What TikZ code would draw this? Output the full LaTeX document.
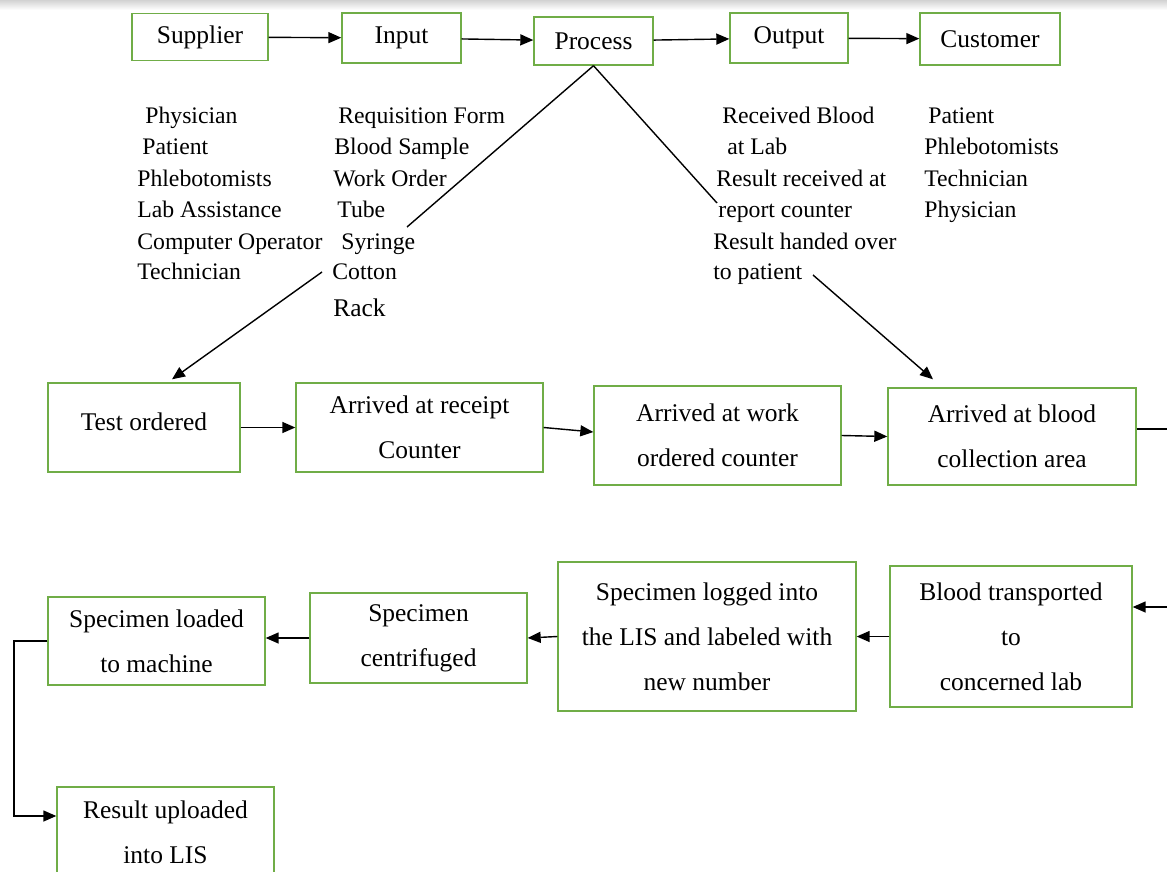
\documentclass[tikz,border=0pt]{standalone}
\usepackage{fontspec}
\setmainfont{Liberation Serif}
\usetikzlibrary{arrows.meta}
\definecolor{boxgreen}{RGB}{112,173,71}
\newcommand\boxfnt{\fontsize{14.5}{25.6}\selectfont}
\newcommand\listfnt{\fontsize{13.5}{17.8}\selectfont}
\tikzset{
  stage/.style={draw=boxgreen,line width=0.8pt,align=center,font=\boxfnt,inner sep=0pt},
  listtext/.style={font=\listfnt,inner sep=0pt,anchor=base west},
  arr/.style={line width=0.8pt,-{Triangle[length=2.6mm,width=2.2mm]}},
  ln/.style={line width=0.8pt}
}
\begin{document}
\begin{tikzpicture}[x=0.02cm,y=-0.02cm]
    \useasboundingbox (0,0) rectangle (1167,872);
    \shade[top color=gray!35,bottom color=white] (0,0) rectangle (1167,10);
    % SIPOC row
    \node[stage,minimum width=2.72cm,minimum height=0.94cm] (sup) at (200,37) {Supplier};
    \node[stage,minimum width=2.38cm,minimum height=1.0cm] (inp) at (401.5,38) {Input};
    \node[stage,minimum width=2.38cm,minimum height=0.96cm] (proc) at (593.5,41) {Process};
    \node[stage,minimum width=2.36cm,minimum height=1.0cm] (outp) at (789,38) {Output};
    \node[stage,minimum width=2.8cm,minimum height=1.04cm] (cust) at (990,39) {Customer};
    \draw[arr] (sup) -- (inp);
    \draw[arr] (inp) -- (proc);
    \draw[arr] (proc) -- (outp);
    \draw[arr] (outp) -- (cust);
    \foreach \i/\x/\y/\t in {1/145/123/Physician,2/142/154/Patient,3/137/186/Phlebotomists,
        4/137/217/Lab Assistance,5/137/249/Computer Operator,6/137/279/Technician}
        \node[listtext] (sup\i) at (\x,\y) {\t};
    \foreach \i/\x/\y/\t in {1/338/123/Requisition Form,2/334/154/Blood Sample,3/333/186/Work Order,
        4/337/217/Tube,5/341/249/Syringe,6/332/279/Cotton}
        \node[listtext] (inp\i) at (\x,\y) {\t};
    \node[listtext,font=\boxfnt] (inp7) at (333,316) {Rack};
    \foreach \i/\x/\y/\t in {1/722/123/Received Blood,2/727/154/at Lab,3/716/186/Result received at,
        4/718/217/report counter,5/713/249/Result handed over,6/713/279/to patient}
        \node[listtext] (outp\i) at (\x,\y) {\t};
    \foreach \i/\x/\y/\t in {1/928/123/Patient,2/924/154/Phlebotomists,3/924/186/Technician,4/924/217/Physician}
        \node[listtext] (cust\i) at (\x,\y) {\t};
    % process flow
    \node[stage,minimum width=3.84cm,minimum height=1.78cm,text depth=0.24cm] (test) at (144,427.5) {Test ordered};
    \node[stage,minimum width=4.94cm,minimum height=1.78cm] (rcpt) at (419.5,427.5) {Arrived at receipt\\Counter};
    \node[stage,minimum width=4.94cm,minimum height=1.98cm] (work) at (717.5,435.5) {Arrived at work\\ordered counter};
    \node[stage,minimum width=4.96cm,minimum height=1.94cm] (coll) at (1012,436.5) {Arrived at blood\\collection area};
    \node[stage,minimum width=4.84cm,minimum height=2.82cm] (trans) at (1011,636.5) {Blood transported\\to\\concerned lab};
    \node[stage,minimum width=5.96cm,minimum height=2.98cm] (logd) at (707,636.5) {Specimen logged into\\the LIS and labeled with\\new number};
    \node[stage,minimum width=4.34cm,minimum height=1.8cm] (cent) at (418.5,638) {Specimen\\centrifuged};
    \node[stage,minimum width=4.34cm,minimum height=1.76cm] (load) at (156.5,641) {Specimen loaded\\to machine};
    \node[stage,minimum width=4.34cm,minimum height=1.8cm] (res) at (165.5,832) {Result uploaded\\into LIS};
    \coordinate (l1) at (407,227);
    \coordinate (l2) at (322,272);
    \coordinate (r1) at (717,203);
    \coordinate (r2) at (813,275);
    \coordinate (edge1) at (1170,429);
    \coordinate (edge2) at (1170,607);
    \coordinate (turn) at (14,641);
    \draw[ln] (proc.south) -- (l1);
    \draw[arr] (l2) -- ([xshift=0.56cm,yshift=0.06cm]test.north);
    \draw[ln] (proc.south) -- (r1);
    \draw[arr] (r2) -- ([xshift=-1.58cm,yshift=0.16cm]coll.north);
    \draw[arr] (test) -- (rcpt);
    \draw[arr] (rcpt.east) -- ([yshift=0.07cm]work.west);
    \draw[arr] (work.east) -- (coll.west);
    \draw[ln] (coll.east |- edge1) -- (edge1);
    \draw[arr] (edge2) -- (trans.east |- edge2);
    \draw[arr] (trans.west) -- (logd.east);
    \draw[arr] (logd.west) -- (cent.east);
    \draw[arr] (cent.west) -- (cent.west -| load.east);
    \draw[arr] (load.west) -- (turn) |- ([yshift=0.32cm]res.west);
\end{tikzpicture}
\end{document}
